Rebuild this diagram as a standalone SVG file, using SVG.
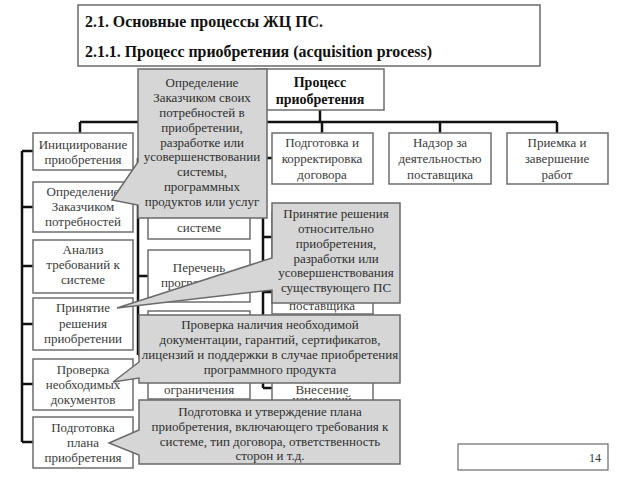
<svg xmlns="http://www.w3.org/2000/svg" width="640" height="480" viewBox="0 0 640 480" font-family="'Liberation Serif', 'DejaVu Serif', serif">
<style>
.box{fill:#fff;stroke:#6e6e6e;stroke-width:1.5;}
.t{font-family:'Liberation Serif', serif;font-size:13px;fill:#3a3a3a;text-anchor:middle;}
.c{fill:#d6d6d6;stroke:#6a6a6a;stroke-width:1.5;}
.ct{font-family:'Liberation Serif', serif;font-size:13px;fill:#2e2e2e;text-anchor:middle;}
.ln{fill:none;stroke:#111;stroke-width:2.5;}
.h{font-family:'Liberation Serif', serif;font-weight:bold;fill:#111;}
</style>
<rect width="640" height="480" fill="#fff"/>
<g id="title">
<rect x="78" y="5" width="462" height="61" fill="#fff" stroke="#6a6a6a" stroke-width="1.5"/>
<text class="h" x="85" y="27" font-size="17" textLength="238" lengthAdjust="spacingAndGlyphs">2.1. Основные процессы ЖЦ ПС.</text>
<text class="h" x="85" y="57" font-size="17" textLength="347" lengthAdjust="spacingAndGlyphs">2.1.1. Процесс приобретения (acquisition process)</text>
</g>
<g id="connectors">
<path class="ln" d="M320 110V122M80 122H557M80 122V133M199 122V133M322 122V133M440 122V133M557 122V133"/>
<path class="ln" d="M22 151V442M22 151H33M22 207H33M22 266H33M22 324H33M22 384H33M22 442H33"/>
<path class="ln" d="M138 158V355M138 158H148M138 214H148M138 276H148M138 355H148"/>
<path class="ln" d="M263 158V388M263 158H272M263 237H272M263 292H272M263 342H272M263 388H272"/>
</g>
<g id="process">
<rect class="box" x="256" y="69" width="128" height="41"/>
<text class="h" x="320" y="87" font-size="14" text-anchor="middle" fill="#222">Процесс</text>
<text class="h" x="320" y="104" font-size="14" text-anchor="middle" fill="#222">приобретения</text>
</g>
<g id="init">
<rect class="box" x="33" y="133" width="100" height="37"/>
<text class="t" x="83" y="149">Инициирование</text>
<text class="t" x="83" y="164">приобретения</text>
</g>
<g id="needs">
<rect class="box" x="33" y="182" width="100" height="50"/>
<text class="t" x="83" y="196">Определение</text>
<text class="t" x="83" y="211">Заказчиком</text>
<text class="t" x="83" y="226">потребностей</text>
</g>
<g id="analysis">
<rect class="box" x="33" y="240" width="100" height="53"/>
<text class="t" x="83" y="254">Анализ</text>
<text class="t" x="83" y="269">требований к</text>
<text class="t" x="83" y="284">системе</text>
</g>
<g id="decision">
<rect class="box" x="33" y="298" width="100" height="52"/>
<text class="t" x="83" y="312">Принятие</text>
<text class="t" x="83" y="328">решения</text>
<text class="t" x="83" y="343">приобретении</text>
</g>
<g id="check">
<rect class="box" x="33" y="359" width="100" height="51"/>
<text class="t" x="83" y="374">Проверка</text>
<text class="t" x="83" y="389">необходимых</text>
<text class="t" x="83" y="404">документов</text>
</g>
<g id="plan">
<rect class="box" x="33" y="417" width="100" height="51"/>
<text class="t" x="83" y="432">Подготовка</text>
<text class="t" x="83" y="447">плана</text>
<text class="t" x="83" y="462">приобретения</text>
</g>
<g id="mid-top"><rect class="box" x="148" y="133" width="102" height="51"/></g>
<g id="mid-a">
<rect class="box" x="148" y="190" width="102" height="49"/>
<text class="t" x="199" y="232">системе</text>
</g>
<g id="mid-b">
<rect class="box" x="148" y="250" width="102" height="52"/>
<text class="t" x="199" y="272">Перечень</text>
<text class="t" x="199" y="287">программных</text>
</g>
<g id="mid-c">
<rect class="box" x="148" y="311" width="102" height="88"/>
<text class="t" x="199" y="394">ограничения</text>
</g>
<g id="contract">
<rect class="box" x="272" y="133" width="101" height="51"/>
<text class="t" x="322" y="147">Подготовка и</text>
<text class="t" x="322" y="163">корректировка</text>
<text class="t" x="322" y="179">договора</text>
</g>
<g id="supervision">
<rect class="box" x="389" y="133" width="102" height="51"/>
<text class="t" x="440" y="147">Надзор за</text>
<text class="t" x="440" y="163">деятельностью</text>
<text class="t" x="440" y="179">поставщика</text>
</g>
<g id="acceptance">
<rect class="box" x="507" y="133" width="101" height="51"/>
<text class="t" x="557" y="147">Приемка и</text>
<text class="t" x="557" y="163">завершение</text>
<text class="t" x="557" y="179">работ</text>
</g>
<g id="right-a"><rect class="box" x="272" y="212" width="101" height="50"/></g>
<g id="right-b">
<rect class="box" x="272" y="270" width="101" height="44"/>
<text class="t" x="322" y="310">поставщика</text>
</g>
<g id="right-c"><rect class="box" x="272" y="322" width="101" height="40"/></g>
<g id="right-d">
<rect class="box" x="272" y="368" width="101" height="40"/>
<text class="t" font-size="11.5"><tspan x="322" y="394">Внесение</tspan><tspan x="322" y="404">изменений</tspan></text>
</g>
<g id="callout1">
<path class="c" d="M138 69H267V218H138V205L112 200L138 162Z"/>
<text class="ct" x="202" y="87">Определение</text>
<text class="ct" x="202" y="102">Заказчиком своих</text>
<text class="ct" x="202" y="117">потребностей в</text>
<text class="ct" x="202" y="132">приобретении,</text>
<text class="ct" x="202" y="147">разработке или</text>
<text class="ct" x="202" y="161">усовершенствовании</text>
<text class="ct" x="202" y="176">системы,</text>
<text class="ct" x="202" y="191">программных</text>
<text class="ct" x="202" y="206">продуктов или услуг</text>
</g>
<g id="callout2">
<path class="c" d="M272 203H400V303H272V290L117 308L272 258Z"/>
<text class="ct" x="336" y="218">Принятие решения</text>
<text class="ct" x="336" y="233">относительно</text>
<text class="ct" x="336" y="248">приобретения,</text>
<text class="ct" x="336" y="263">разработки или</text>
<text class="ct" x="336" y="277">усовершенствования</text>
<text class="ct" x="336" y="292">существующего ПС</text>
</g>
<g id="callout3">
<path class="c" d="M139 315H400V383H139V378L113 382L139 362Z"/>
<text class="ct" x="270" y="329">Проверка наличия необходимой</text>
<text class="ct" x="270" y="344">документации, гарантий, сертификатов,</text>
<text class="ct" x="270" y="359">лицензий и поддержки в случае приобретения</text>
<text class="ct" x="270" y="374">программного продукта</text>
</g>
<g id="callout4">
<path class="c" d="M139 400H400V464H139V455L109 443L139 430Z"/>
<text class="ct" x="270" y="416">Подготовка и утверждение плана</text>
<text class="ct" x="270" y="431">приобретения, включающего требования к</text>
<text class="ct" x="270" y="446">системе, тип договора, ответственность</text>
<text class="ct" x="270" y="460">сторон и т.д.</text>
</g>
<g id="page">
<rect x="458" y="444" width="150" height="26" fill="#fff" stroke="#6a6a6a" stroke-width="1.2"/>
<text x="601" y="462" font-size="12" fill="#333" text-anchor="end">14</text>
</g>
</svg>
